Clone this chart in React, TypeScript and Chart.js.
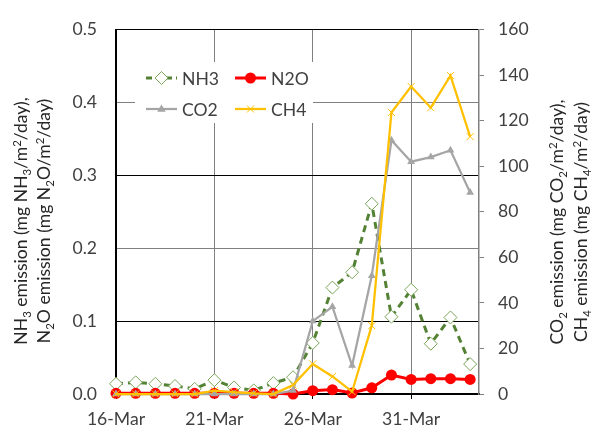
import React, { useEffect, useRef } from "react";
import { Chart, registerables } from "chart.js";
Chart.register(...registerables);

const dates = [
  "16-Mar", "17-Mar", "18-Mar", "19-Mar", "20-Mar", "21-Mar", "22-Mar", "23-Mar", "24-Mar", "25-Mar",
  "26-Mar", "27-Mar", "28-Mar", "29-Mar", "30-Mar", "31-Mar", "1-Apr", "2-Apr", "3-Apr",
];
const nh3 = [0.014, 0.016, 0.014, 0.011, 0.007, 0.019, 0.009, 0.005, 0.015, 0.023, 0.07, 0.146, 0.167, 0.261, 0.106, 0.143, 0.069, 0.105, 0.041];
const n2o = [0.001, 0.001, 0.001, 0.001, 0.001, 0.001, 0.001, 0.001, 0.001, 0.0, 0.0045, 0.006, 0.0013, 0.0085, 0.026, 0.02, 0.021, 0.021, 0.02];
const co2 = [0, 0, 0, 0, 0, 0, 0, 0, 0, 1.5, 32, 38.3, 12.5, 51.9, 111.4, 102, 104, 107, 88.5];
const ch4 = [0, 0, 0, 0, 0, 1.5, 0.8, 0.3, 0, 3.9, 13.2, 7.7, 1, 30, 123.6, 135, 125.7, 139.8, 113];
const leftTicks = [0, 0.1, 0.2, 0.3, 0.4, 0.5];
const rightTicks = [0, 20, 40, 60, 80, 100, 120, 140, 160];

const FONT = "Lato";
const FS = 17.6;
const TXT = "#404040";

const C_NH3 = "#548235";
const C_NH3_MK = "#7aa55a";
const C_N2O = "#ff0000";
const C_CO2 = "#a5a5a5";
const C_CH4 = "#ffc000";

type Seg = [string, string?];
const leftTitle: Seg[][] = [
  [["NH"], ["3", "sub"], [" emission (mg NH"], ["3", "sub"], ["/m"], ["2", "sup"], ["/day),"]],
  [["N"], ["2", "sub"], ["O emission (mg N"], ["2", "sub"], ["O/m"], ["2", "sup"], ["/day)"]],
];
const rightTitle: Seg[][] = [
  [["CO"], ["2", "sub"], [" emission (mg CO"], ["2", "sub"], ["/m"], ["2", "sup"], ["/day),"]],
  [["CH"], ["4", "sub"], [" emission (mg CH"], ["4", "sub"], ["/m"], ["2", "sup"], ["/day)"]],
];

function drawRich(ctx: CanvasRenderingContext2D, segs: Seg[], cx: number, cy: number) {
  const small = FS * 0.65;
  let total = 0;
  const widths: number[] = [];
  for (const [t, k] of segs) {
    ctx.font = `${k ? small : FS}px ${FONT}`;
    const w = ctx.measureText(t).width;
    widths.push(w);
    total += w;
  }
  ctx.save();
  ctx.translate(cx, cy);
  ctx.rotate(-Math.PI / 2);
  ctx.textBaseline = "alphabetic";
  ctx.textAlign = "left";
  ctx.fillStyle = "#262626";
  let x = -total / 2;
  const base = FS * 0.36;
  segs.forEach(([t, k], i) => {
    ctx.font = `${k ? small : FS}px ${FONT}`;
    let y = base;
    if (k === "sub") y += FS * 0.22;
    if (k === "sup") y -= FS * 0.38;
    ctx.fillText(t, x, y);
    x += widths[i];
  });
  ctx.restore();
}

const titlePlugin = {
  id: "richTitles",
  afterDraw(chart: any) {
    const ctx = chart.ctx as CanvasRenderingContext2D;
    drawRich(ctx, leftTitle[0], 21, 221);
    drawRich(ctx, leftTitle[1], 44, 221);
    drawRich(ctx, rightTitle[0], 557, 222);
    drawRich(ctx, rightTitle[1], 581, 222);
  },
};

function marker(ctx: CanvasRenderingContext2D, kind: string, x: number, y: number) {
  ctx.save();
  ctx.setLineDash([]);
  ctx.beginPath();
  if (kind === "diamond") {
    const r = 6.5;
    ctx.moveTo(x, y - r);
    ctx.lineTo(x + r, y);
    ctx.lineTo(x, y + r);
    ctx.lineTo(x - r, y);
    ctx.closePath();
    ctx.fillStyle = "#fff";
    ctx.fill();
    ctx.strokeStyle = C_NH3_MK;
    ctx.lineWidth = 1;
    ctx.stroke();
  } else if (kind === "circle") {
    ctx.arc(x, y, 5.5, 0, Math.PI * 2);
    ctx.fillStyle = C_N2O;
    ctx.fill();
  } else if (kind === "triangle") {
    const r = 4.5;
    ctx.moveTo(x, y - r);
    ctx.lineTo(x + r * 0.95, y + r * 0.6);
    ctx.lineTo(x - r * 0.95, y + r * 0.6);
    ctx.closePath();
    ctx.fillStyle = C_CO2;
    ctx.fill();
  } else if (kind === "cross") {
    const r = 3.5;
    ctx.moveTo(x - r, y - r);
    ctx.lineTo(x + r, y + r);
    ctx.moveTo(x + r, y - r);
    ctx.lineTo(x - r, y + r);
    ctx.strokeStyle = C_CH4;
    ctx.lineWidth = 1;
    ctx.stroke();
  }
  ctx.restore();
}

const legendItems = [
  { label: "NH3", color: C_NH3, dash: [6, 4], width: 3, kind: "diamond", x: 146, y: 78 },
  { label: "N2O", color: C_N2O, dash: [], width: 3, kind: "circle", x: 235, y: 78 },
  { label: "CO2", color: C_CO2, dash: [], width: 2.25, kind: "triangle", x: 146, y: 109 },
  { label: "CH4", color: C_CH4, dash: [], width: 2.25, kind: "cross", x: 235, y: 109 },
];

const legendPlugin = {
  id: "customLegend",
  beforeDatasetsDraw(chart: any) {
    const ctx = chart.ctx as CanvasRenderingContext2D;
    ctx.save();
    ctx.fillStyle = "#fff";
    ctx.fillRect(135, 62, 178, 61);
    for (const it of legendItems) {
      ctx.beginPath();
      ctx.setLineDash(it.dash);
      ctx.strokeStyle = it.color;
      ctx.lineWidth = it.width;
      ctx.moveTo(it.x, it.y);
      ctx.lineTo(it.x + 31, it.y);
      ctx.stroke();
      marker(ctx, it.kind, it.x + 15.5, it.y);
      ctx.setLineDash([]);
      ctx.font = `${FS}px ${FONT}`;
      ctx.fillStyle = TXT;
      ctx.textBaseline = "middle";
      ctx.textAlign = "left";
      ctx.fillText(it.label, it.x + 36, it.y + 1);
    }
    ctx.restore();
  },
};

export default function App() {
  const ref = useRef<HTMLCanvasElement>(null);
  useEffect(() => {
    document.body.style.margin = "0";
    let chart: Chart | null = null;
    let cancelled = false;
    const make = () => {
      if (cancelled || !ref.current) return;
      const toXY = (arr: number[]) => arr.map((y, i) => ({ x: i, y }));
      chart = new Chart(ref.current, {
        type: "line",
        data: {
          datasets: [
            {
              label: "NH3",
              data: toXY(nh3),
              yAxisID: "y",
              borderColor: C_NH3,
              borderWidth: 3,
              borderDash: [7, 5],
              pointStyle: "rectRot",
              pointRadius: 6.5,
              pointBackgroundColor: "#fff",
              pointBorderColor: C_NH3_MK,
              pointBorderWidth: 1,
              tension: 0,
              clip: false,
              order: 4,
            },
            {
              label: "N2O",
              data: toXY(n2o),
              yAxisID: "y",
              borderColor: C_N2O,
              borderWidth: 3,
              pointStyle: "circle",
              pointRadius: 5.5,
              pointBackgroundColor: C_N2O,
              pointBorderColor: C_N2O,
              pointBorderWidth: 0,
              tension: 0,
              clip: false,
              order: 3,
            },
            {
              label: "CO2",
              data: toXY(co2),
              yAxisID: "y1",
              borderColor: C_CO2,
              borderWidth: 2.25,
              pointStyle: "triangle",
              pointRadius: 4.5,
              pointBackgroundColor: C_CO2,
              pointBorderColor: C_CO2,
              pointBorderWidth: 0,
              tension: 0,
              clip: false,
              order: 2,
            },
            {
              label: "CH4",
              data: toXY(ch4),
              yAxisID: "y1",
              borderColor: C_CH4,
              borderWidth: 2.25,
              pointStyle: "crossRot",
              pointRadius: 5,
              pointBackgroundColor: C_CH4,
              pointBorderColor: C_CH4,
              pointBorderWidth: 1,
              tension: 0,
              clip: false,
              order: 1,
            },
          ],
        },
        options: {
          responsive: false,
          animation: false,
          events: [],
          layout: { padding: { top: 22, left: 0, right: 0, bottom: 0 } },
          plugins: { legend: { display: false }, tooltip: { enabled: false }, title: { display: false } },
          scales: {
            x: {
              type: "linear",
              min: 0,
              max: 18.45,
              afterFit: (s: any) => {
                s.height = 34;
              },
              afterBuildTicks: (s: any) => {
                s.ticks = [0, 5, 10, 15].map((v) => ({ value: v }));
              },
              ticks: {
                callback: (v: any) => dates[Math.round(Number(v))] ?? "",
                font: { family: FONT, size: FS },
                color: TXT,
                padding: 10,
                maxRotation: 0,
                autoSkip: false,
              },
              grid: {
                color: (c: any) => (c.tick && c.tick.value === 0 ? "rgba(0,0,0,0)" : "#808080"),
                lineWidth: 1,
                tickLength: 5,
                tickColor: "#000",
              },
              border: { color: "#000", width: 2 },
            },
            y: {
              position: "left",
              min: 0,
              max: 0.5,
              afterFit: (s: any) => {
                s.width = 116;
              },
              afterBuildTicks: (s: any) => {
                s.ticks = leftTicks.map((v) => ({ value: v }));
              },
              ticks: {
                callback: (v: any) => Number(v).toFixed(1),
                font: { family: FONT, size: FS },
                color: TXT,
                padding: 19,
              },
              grid: {
                drawTicks: false,
                color: (c: any) => {
                  const i = c.index;
                  if (i === 0) return "rgba(0,0,0,0)";
                  return i % 2 === 1 ? "#000" : "#808080";
                },
                lineWidth: 1,
              },
              border: { color: "#000", width: 2 },
            },
            y1: {
              position: "right",
              min: 0,
              max: 160,
              afterFit: (s: any) => {
                s.width = 113;
              },
              afterBuildTicks: (s: any) => {
                s.ticks = rightTicks.map((v) => ({ value: v }));
              },
              ticks: {
                callback: (v: any) => String(v),
                font: { family: FONT, size: FS },
                color: TXT,
                padding: 14,
              },
              grid: {
                drawOnChartArea: false,
                tickLength: 5,
                tickColor: "#808080",
              },
              border: { color: "#808080", width: 1.5 },
            },
          },
        },
        plugins: [legendPlugin, titlePlugin],
      });
    };
    const fonts: any = (document as any).fonts;
    if (fonts && fonts.load) {
      fonts.load(`${FS}px ${FONT}`).then(make, make);
    } else make();
    return () => {
      cancelled = true;
      if (chart) chart.destroy();
    };
  }, []);
  return (
    <div style={{ width: 592, height: 428 }}>
      <canvas ref={ref} width={592} height={428} style={{ display: "block" }} />
    </div>
  );
}
